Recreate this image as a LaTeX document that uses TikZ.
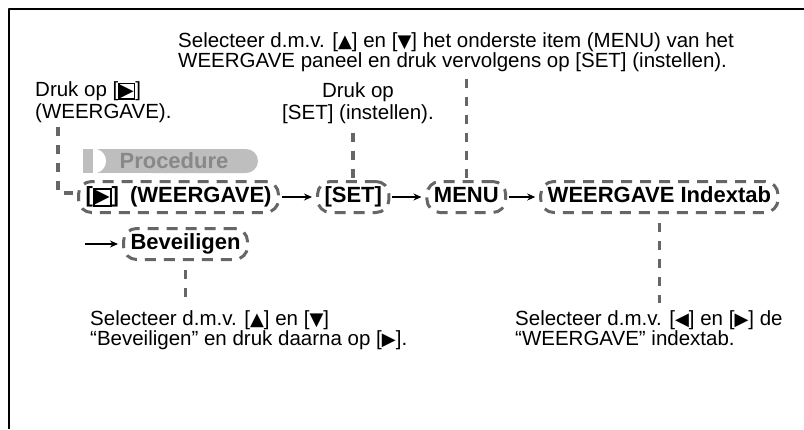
\documentclass[tikz,border=0pt]{standalone}
\usepackage{fontspec}
\setmainfont{Liberation Sans}
\newfontfamily\symfont[Scale=0.88]{DejaVu Sans}
\usetikzlibrary{arrows.meta,calc,positioning}
\definecolor{dashgray}{HTML}{666666}
\definecolor{tabgray}{HTML}{BEBEBE}
\definecolor{tabtext}{HTML}{888888}
\newcommand{\playkey}[1]{{\setlength{\fboxsep}{0.2pt}\setlength{\fboxrule}{#1}\fbox{\symfont ▶}}}

\begin{document}
\begin{tikzpicture}[
  x=1pt,y=-1pt,line join=round,
  note/.style={font=\fontsize{20.5}{20}\selectfont,align=left,inner sep=0pt},
  keybox/.style={draw=dashgray,line width=3pt,dash pattern=on 11pt off 8pt,
    rounded corners=13pt,font=\bfseries\fontsize{22}{22}\selectfont,
    inner xsep=7pt,inner ysep=0pt,text height=16pt,text depth=5pt,minimum height=31pt},
  flow/.style={line width=1.3pt,-{Stealth[length=8pt,width=7pt]},shorten <=2pt,shorten >=4pt},
  callout/.style={dashgray,line width=3.5pt,dash pattern=on 9pt off 9pt}
]
  \useasboundingbox (0,0) rectangle (804,429);
  \fill[white] (0,0) rectangle (804,429);
  \draw[line width=2pt] (9,429) -- (9,9) -- (804,9);

  % Procedure tab
  \fill[tabgray] (83,149) rectangle (160,173);
  \fill[tabgray,rounded corners=12pt] (140,149) rectangle (258,173);
  \fill[white] (93,149) -- (97,149) .. controls (109,153) and (109,169) .. (97,173) -- (93,173) -- cycle;
  \node[font=\bfseries\fontsize{22}{22}\selectfont,text=tabtext] (proc) at (174,161) {Procedure};

  % Steps
  \node[keybox,anchor=west] (weergave) at (77,197) {[\playkey{1.8pt}]\hspace{5pt} (WEERGAVE)};
  \node[keybox,right=36pt of weergave] (set) {[SET]};
  \node[keybox,right=35pt of set] (menu) {MENU};
  \node[keybox,right=32pt of menu] (indextab) {WEERGAVE Indextab};
  \node[keybox,anchor=west] (beveiligen) at (122,244) {Beveiligen};
  \coordinate (bevstart) at (85,244);

  \draw[flow] (weergave) -- (set);
  \draw[flow] (set) -- (menu);
  \draw[flow] (menu) -- (indextab);
  \draw[flow,shorten <=0pt] (bevstart) -- (beveiligen);

  % Notes
  \node[note,anchor=north west] (topnote) at (178,32)
    {Selecteer d.m.v. [{\symfont ▲}] en [{\symfont ▼}] het onderste item (MENU) van het\\
     WEERGAVE paneel en druk vervolgens op [SET] (instellen).};
  \node[note,font=\fontsize{20.5}{22}\selectfont,anchor=north west] (playnote) at (35,81)
    {Druk op [\playkey{1.4pt}]\\(WEERGAVE).};
  \node[note,font=\fontsize{20.5}{22}\selectfont,align=center,anchor=north] (setnote) at (358,82)
    {Druk op\\{}[SET] (instellen).};
  \node[note,anchor=north west] (bevnote) at (90,310)
    {Selecteer d.m.v. [{\symfont ▲}] en [{\symfont ▼}]\\
     “Beveiligen” en druk daarna op [{\symfont ▶}].};
  \node[note,anchor=north west] (tabnote) at (515,310)
    {Selecteer d.m.v. [{\symfont ◀}] en [{\symfont ▶}] de\\
     “WEERGAVE” indextab.};
  \coordinate (playdrop) at (58,127);

  % Callout lines
  \draw[callout] ($(topnote.south -| menu.north)+(0,7)$) -- (menu.north);
  \draw[callout] ($(setnote.south -| set.north)+(0,9)$) -- (set.north);
  \draw[callout] (playdrop) |- ($(weergave.west)+(-2,-4)$);
  \draw[callout] ($(beveiligen.south)+(0,9)$) -- ($(beveiligen.south |- bevnote.north)+(0,-7)$);
  \draw[callout] ($(indextab.south)+(0,9)$) -- ($(indextab.south |- tabnote.north)+(0,-7)$);
\end{tikzpicture}
\end{document}
